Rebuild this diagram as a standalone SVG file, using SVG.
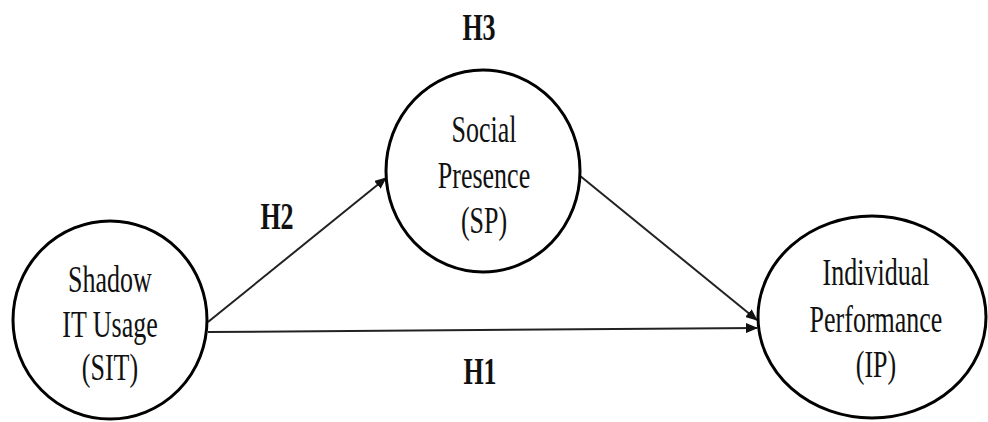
<svg xmlns="http://www.w3.org/2000/svg" width="988" height="422" viewBox="0 0 988 422">
<style>
.node{fill:#fff;stroke:#000;stroke-width:3}
.t{font-family:"Liberation Serif","Times New Roman",serif;font-size:26px;fill:#111;text-anchor:middle}
.h{font-family:"Liberation Serif","Times New Roman",serif;font-size:26px;font-weight:bold;fill:#111;text-anchor:middle}
.edge{stroke:#222;stroke-width:2;fill:none;marker-end:url(#arr)}
</style>
<defs>
<marker id="arr" markerWidth="12" markerHeight="10" refX="11" refY="5" orient="auto" markerUnits="userSpaceOnUse">
<path d="M0,0 L12,5 L0,10 Z" fill="#111"/>
</marker>
</defs>
<rect width="988" height="422" fill="#fff"/>
<g id="connectors">
<line class="edge" x1="208" y1="322" x2="386" y2="178"/>
<line class="edge" x1="579" y1="175" x2="757" y2="320"/>
<line class="edge" x1="208" y1="332" x2="757" y2="328"/>
</g>
<g id="SIT">
<ellipse class="node" cx="110" cy="320" rx="97" ry="99"/>
<text class="t" transform="translate(110,292) scale(1,1.45)">Shadow</text>
<text class="t" transform="translate(110,337) scale(1,1.45)">IT Usage</text>
<text class="t" transform="translate(110,380) scale(1,1.45)">(SIT)</text>
</g>
<g id="SP">
<ellipse class="node" cx="483" cy="171" rx="97" ry="101"/>
<text class="t" transform="translate(484,142) scale(1,1.45)">Social</text>
<text class="t" transform="translate(484,188) scale(1,1.45)">Presence</text>
<text class="t" transform="translate(484,233) scale(1,1.45)">(SP)</text>
</g>
<g id="IP">
<ellipse class="node" cx="872" cy="317" rx="114" ry="101"/>
<text class="t" transform="translate(876,285) scale(1,1.45)">Individual</text>
<text class="t" transform="translate(876,332) scale(1,1.45)">Performance</text>
<text class="t" transform="translate(876,377) scale(1,1.45)">(IP)</text>
</g>
<g id="labels">
<text class="h" transform="translate(479,40) scale(1,1.45)">H3</text>
<text class="h" transform="translate(277,229) scale(1,1.45)">H2</text>
<text class="h" transform="translate(480,384) scale(1,1.45)">H1</text>
</g>
</svg>
